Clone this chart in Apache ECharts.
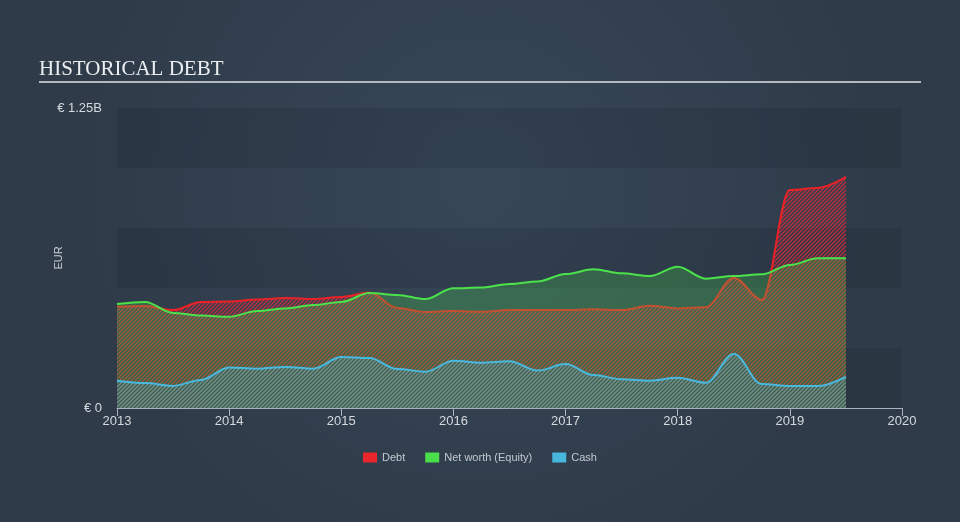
<!DOCTYPE html>
<html>
<head>
<meta charset="utf-8">
<script src="https://cdn.jsdelivr.net/npm/echarts@6/dist/echarts.min.js"></script>
<style>
html,body{margin:0;padding:0;background:#323f4e;}
#chart{width:960px;height:522px;}
</style>
</head>
<body>
<div id="chart"></div>
<script>
// Quarterly reporting dates (decimal years)
var dates = [2013.0, 2013.25, 2013.5, 2013.75, 2014.0, 2014.25, 2014.5, 2014.75,
             2015.0, 2015.25, 2015.5, 2015.75, 2016.0, 2016.25, 2016.5, 2016.75,
             2017.0, 2017.25, 2017.5, 2017.75, 2018.0, 2018.25, 2018.5, 2018.75,
             2019.0, 2019.25, 2019.5];
// Values in EUR billions
var debt = [0.422, 0.425, 0.408, 0.442, 0.444, 0.452, 0.458, 0.454,
            0.463, 0.481, 0.417, 0.400, 0.404, 0.401, 0.408, 0.408,
            0.408, 0.411, 0.408, 0.426, 0.415, 0.420, 0.542, 0.450,
            0.908, 0.917, 0.963];
var equity = [0.433, 0.442, 0.396, 0.385, 0.380, 0.404, 0.415, 0.429,
              0.442, 0.479, 0.471, 0.454, 0.499, 0.502, 0.517, 0.527,
              0.558, 0.578, 0.561, 0.550, 0.589, 0.539, 0.550, 0.557,
              0.596, 0.624, 0.624];
var cash = [0.114, 0.104, 0.092, 0.117, 0.169, 0.164, 0.171, 0.164,
            0.2125, 0.208, 0.1625, 0.151, 0.197, 0.189, 0.195, 0.156,
            0.183, 0.1375, 0.120, 0.114, 0.126, 0.105, 0.225, 0.100,
            0.092, 0.092, 0.130];
var yTickLabels = {0: '€ 0', 1.25: '€ 1.25B'};
var seriesNames = ['Debt', 'Net worth (Equity)', 'Cash'];

function pair(xs, ys) { return xs.map(function (x, i) { return [x, ys[i]]; }); }

function hatch(color, w) {
  var c = document.createElement('canvas');
  var s = 4;
  c.width = s; c.height = s;
  var g = c.getContext('2d');
  g.strokeStyle = color;
  g.lineWidth = w;
  g.beginPath();
  g.moveTo(-1, s + 1); g.lineTo(s + 1, -1);
  g.moveTo(-1, 1); g.lineTo(1, -1);
  g.moveTo(s - 1, s + 1); g.lineTo(s + 1, s - 1);
  g.stroke();
  return c;
}

var chart = echarts.init(document.getElementById('chart'), null, {renderer: 'canvas'});
var lineCommon = {type: 'line', smooth: 0.35, smoothMonotone: 'x', showSymbol: false, symbol: 'none'};
var sans = '"Liberation Sans", Arial, sans-serif';

chart.setOption({
  backgroundColor: {
    type: 'radial', x: 0.5, y: 0.35, r: 0.75,
    colorStops: [{offset: 0, color: '#374758'}, {offset: 1, color: '#2f3b49'}]
  },
  animation: false,
  title: {
    text: 'HISTORICAL DEBT', left: 34, top: 54,
    textStyle: {fontFamily: '"Liberation Serif", "Times New Roman", serif', fontWeight: 'normal', fontSize: 21, color: '#eceff2'}
  },
  graphic: [{
    type: 'rect', shape: {x: 39, y: 81, width: 882, height: 2}, style: {fill: '#b4b9bf'}, silent: true
  }],
  legend: {
    data: seriesNames, left: 358, top: 447, itemWidth: 14, itemHeight: 10, itemGap: 20,
    icon: 'rect',
    textStyle: {color: '#c3c9cf', fontSize: 11, fontFamily: sans}
  },
  grid: {left: 117, right: 58, top: 108, bottom: 114, containLabel: false},
  xAxis: {
    type: 'value', min: 2013, max: 2020, interval: 1,
    axisLine: {show: true, lineStyle: {color: '#a9b2bb', width: 1}},
    axisTick: {show: true, length: 8, lineStyle: {color: '#a9b2bb'}},
    axisLabel: {color: '#d5d9dd', fontSize: 13, margin: 7, fontFamily: sans,
      formatter: function (v) { return String(Math.round(v)); }},
    splitLine: {show: false}
  },
  yAxis: {
    type: 'value', min: 0, max: 1.25, interval: 0.25,
    name: 'EUR', nameLocation: 'middle', nameGap: 53, nameRotate: 90, nameMoveOverlap: false,
    nameTextStyle: {color: '#c8cdd2', fontSize: 11, fontFamily: sans},
    axisLine: {show: false}, axisTick: {show: false}, splitLine: {show: false},
    axisLabel: {color: '#d5d9dd', fontSize: 13, margin: 15, fontFamily: sans,
      formatter: function (v) { return yTickLabels[v] !== undefined ? yTickLabels[v] : ''; }},
    splitArea: {show: true, areaStyle: {color: ['rgba(22,30,42,0.17)', 'rgba(0,0,0,0)']}}
  },
  series: [
    Object.assign({}, lineCommon, {
      name: 'Debt', data: pair(dates, debt), color: '#e8262b',
      lineStyle: {color: '#ea2228', width: 2},
      areaStyle: {color: {image: hatch('rgba(228,45,60,0.75)', 1.4), repeat: 'repeat'}, opacity: 1},
      z: 2
    }),
    Object.assign({}, lineCommon, {
      name: 'Net worth (Equity)', data: pair(dates, equity), color: '#4ade4a',
      lineStyle: {color: '#4be24b', width: 2},
      areaStyle: {color: 'rgba(74,222,74,0.25)', opacity: 1},
      z: 3
    }),
    Object.assign({}, lineCommon, {
      name: 'Cash', data: pair(dates, cash), color: '#47b8dc',
      lineStyle: {color: '#48b9de', width: 2},
      areaStyle: {color: {image: hatch('rgba(80,185,220,0.55)', 1.4), repeat: 'repeat'}, opacity: 1},
      z: 4
    })
  ]
});
</script>
</body>
</html>
